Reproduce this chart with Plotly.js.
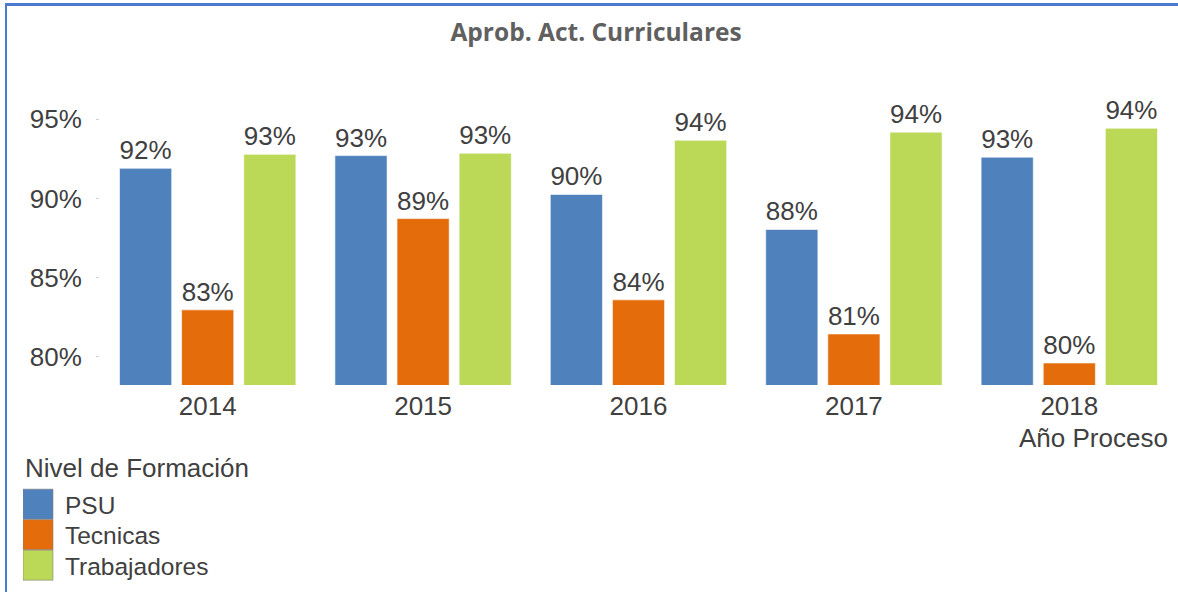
<!DOCTYPE html>
<html>
<head>
<meta charset="utf-8">
<script src="https://cdn.plot.ly/plotly-3.0.1.min.js"></script>
<style>
  html, body { margin: 0; padding: 0; background: #fff; }
  #wrap { position: relative; width: 1178px; height: 592px; overflow: hidden; }
  #chart { width: 1178px; height: 592px; }
  #frame { position: absolute; left: 5px; top: 3px; width: 1300px; height: 800px;
           border-top: 3px solid #4a7bd0; border-left: 2px solid #4a7bd0; pointer-events: none; }
</style>
</head>
<body>
<div id="wrap">
  <div id="chart"></div>
  <div id="frame"></div>
</div>
<script>
const years = ['2014', '2015', '2016', '2017', '2018'];
const psu = [91.9, 92.7, 90.25, 88.04, 92.6];
const tecnicas = [82.97, 88.73, 83.6, 81.45, 79.62];
const trabajadores = [92.78, 92.85, 93.67, 94.18, 94.43];
const seriesNames = ['PSU', 'Tecnicas', 'Trabajadores'];
const yTickVals = [80, 85, 90, 95];
const yTickText = ['80%', '85%', '90%', '95%'];

const colors = ['#4F81BD', '#E46C0A', '#BBD856'];
const FONT = 'Liberation Sans, Arial, sans-serif';
const TXT = '#404040';

const traces = [psu, tecnicas, trabajadores].map((vals, i) => ({
  type: 'bar',
  name: seriesNames[i],
  x: years,
  y: vals,
  base: 0,
  marker: { color: colors[i], line: { color: 'rgba(255,255,255,0.6)', width: 1 } },
  texttemplate: '%{y:.0f}%',
  textposition: 'outside',
  textfont: { family: FONT, size: 26, color: TXT },
  cliponaxis: false,
  hoverinfo: 'skip'
}));

const layout = {
  width: 1178,
  height: 592,
  margin: { l: 100, r: 1, t: 80, b: 207, autoexpand: false },
  paper_bgcolor: '#ffffff',
  plot_bgcolor: '#ffffff',
  barmode: 'group',
  bargap: 0.135,
  bargroupgap: 0.16,
  font: { family: FONT, size: 26, color: TXT },
  title: {
    text: 'Aprob. Act. Curriculares',
    font: { family: 'Open Sans, sans-serif', size: 24.5, color: '#606060', weight: 'bold' },
    x: 0.506, xanchor: 'center', y: 0.946, yanchor: 'middle'
  },
  xaxis: {
    type: 'category',
    tickfont: { family: FONT, size: 26, color: TXT },
    showline: false, showgrid: false, zeroline: false,
    ticks: '', ticklabelstandoff: 3
  },
  yaxis: {
    range: [78.23, 97.47],
    tickvals: yTickVals,
    ticktext: yTickText,
    tickfont: { family: FONT, size: 26, color: TXT },
    showline: false, showgrid: false, zeroline: false,
    ticks: 'outside', ticklen: 3, tickcolor: '#d0d0d0', tickwidth: 1,
    ticklabelstandoff: 9
  },
  showlegend: true,
  legend: {
    title: { text: 'Nivel de Formación', font: { family: FONT, size: 26, color: TXT }, side: 'top' },
    font: { family: FONT, size: 24.5, color: TXT },
    orientation: 'v',
    x: -0.0715, xanchor: 'left',
    y: -0.19, yanchor: 'top',
    tracegroupgap: 0,
    itemwidth: 32,
    bgcolor: 'rgba(0,0,0,0)'
  },
  annotations: [{
    text: 'Año Proceso',
    xref: 'paper', yref: 'paper',
    x: 0.9935, xanchor: 'right',
    y: -0.174, yanchor: 'middle',
    showarrow: false,
    font: { family: FONT, size: 26, color: TXT }
  }]
};

function styleLegend() {
  const items = Array.from(document.querySelectorAll('#chart .legend .traces'));
  if (!items.length) return;
  const parse = el => {
    const m = /translate\(\s*([-\d.]+)[ ,]+([-\d.]+)\s*\)/.exec(el.getAttribute('transform') || '');
    return m ? [parseFloat(m[1]), parseFloat(m[2])] : [0, 0];
  };
  if (!items[0].dataset.orig) {
    items.forEach(el => { el.dataset.orig = parse(el).join(','); });
  }
  const first = items[0].dataset.orig.split(',').map(Number);
  items.forEach((el, i) => {
    const o = el.dataset.orig.split(',').map(Number);
    el.setAttribute('transform', 'translate(' + o[0] + ',' + (first[1] + 5 + i * 30.5) + ')');
  });
  document.querySelectorAll('#chart .legend .legendpoints path').forEach(p => {
    if (!p.dataset.big) {
      const t = p.getAttribute('transform') || '';
      p.setAttribute('transform', t + ' translate(-6,0) scale(2.5,2.5)');
      p.style.strokeWidth = '0.4px';
      p.style.stroke = '#7f7f7f';
      p.dataset.big = '1';
    }
  });
}

Plotly.newPlot('chart', traces, layout, { displayModeBar: false, staticPlot: true }).then(gd => {
  styleLegend();
  gd.on('plotly_afterplot', styleLegend);
});
</script>
</body>
</html>
